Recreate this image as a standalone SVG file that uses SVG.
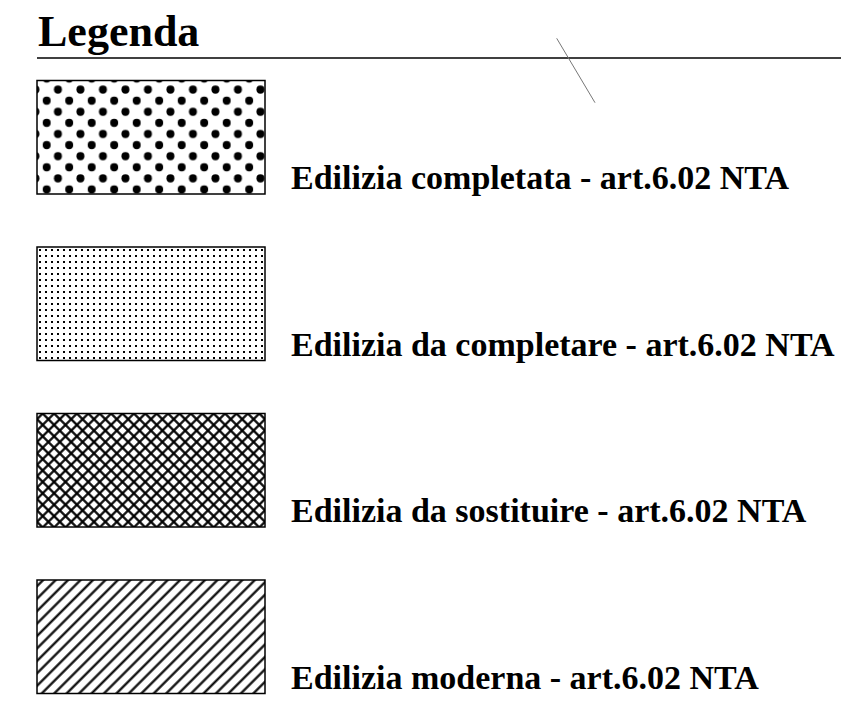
<svg xmlns="http://www.w3.org/2000/svg" width="841" height="721" viewBox="0 0 841 721">
<style>
.lbl{font-family:"Liberation Serif","Times New Roman",serif;font-weight:bold;font-size:34px;fill:#000}
.ttl{font-family:"Liberation Serif","Times New Roman",serif;font-weight:bold;font-size:44px;fill:#000}
.box{stroke:#000;stroke-width:1.5}
</style>
<defs>
<pattern id="bigdots" patternUnits="userSpaceOnUse" x="46.7" y="78.5" width="22.5" height="22.2">
<circle cx="0" cy="0" r="4"/><circle cx="22.5" cy="0" r="4"/><circle cx="0" cy="22.2" r="4"/><circle cx="22.5" cy="22.2" r="4"/><circle cx="11.25" cy="11.1" r="4"/>
</pattern>
<pattern id="smalldots" patternUnits="userSpaceOnUse" x="39" y="249" width="6" height="6">
<rect x="0" y="0" width="2" height="2"/>
</pattern>
<pattern id="cross" patternUnits="userSpaceOnUse" width="8.06" height="8.06" patternTransform="translate(37 413.5) rotate(45)">
<path d="M0 4.03H8.06M4.03 0V8.06" stroke="#000" stroke-width="2.2" fill="none"/>
</pattern>
<pattern id="hatch" patternUnits="userSpaceOnUse" width="10" height="8.8" patternTransform="translate(37 580) rotate(-45)">
<path d="M0 4.4H10" stroke="#000" stroke-width="2.2" fill="none"/>
</pattern>
</defs>
<rect width="841" height="721" fill="#fff"/>
<g id="title">
<text class="ttl" x="38" y="46">Legenda</text>
<line x1="37" y1="58" x2="841" y2="58" stroke="#000" stroke-width="1.5"/>
<line x1="556.7" y1="38.3" x2="595" y2="102.7" stroke="#777" stroke-width="1"/>
</g>
<g id="item1">
<rect class="box" x="37" y="80.5" width="228" height="113.5" fill="url(#bigdots)"/>
<text class="lbl" x="291" y="189">Edilizia completata - art.6.02 NTA</text>
</g>
<g id="item2">
<rect class="box" x="37" y="247" width="228" height="113.5" fill="url(#smalldots)"/>
<text class="lbl" x="291" y="355.5">Edilizia da completare - art.6.02 NTA</text>
</g>
<g id="item3">
<rect class="box" x="37" y="413.5" width="228" height="113.5" fill="url(#cross)"/>
<text class="lbl" x="291" y="522">Edilizia da sostituire - art.6.02 NTA</text>
</g>
<g id="item4">
<rect class="box" x="37" y="580" width="228" height="113.5" fill="url(#hatch)"/>
<text class="lbl" x="291" y="688.5">Edilizia moderna - art.6.02 NTA</text>
</g>
<g id="connectors"/>
</svg>
